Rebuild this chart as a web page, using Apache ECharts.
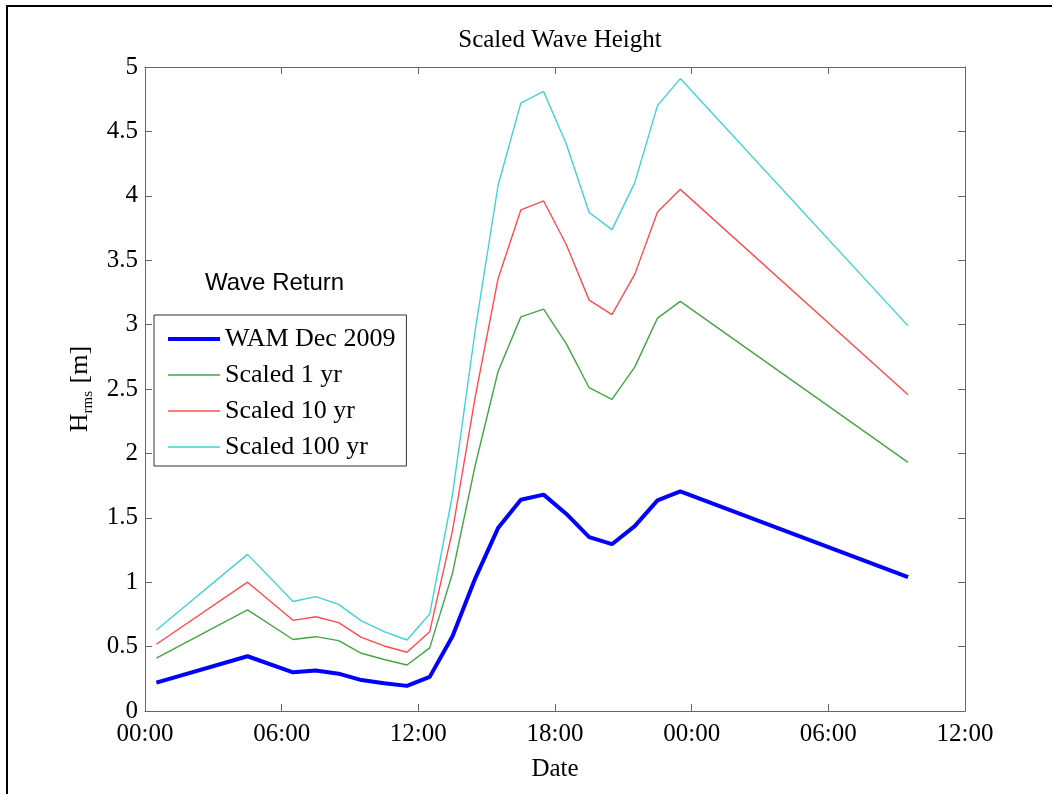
<!DOCTYPE html>
<html>
<head>
<meta charset="utf-8">
<script src="https://cdn.jsdelivr.net/npm/echarts@6/dist/echarts.min.js"></script>
<style>
  html, body { margin: 0; padding: 0; background: #fff; }
  #chart { width: 1052px; height: 794px; }
</style>
</head>
<body>
<div id="chart"></div>
<script>
// Sample times, hours from 00:00 on the first day
const hours = [0.5, 4.5, 6.5, 7.5, 8.5, 9.5, 10.5, 11.5, 12.5, 13.5, 14.5, 15.5,
               16.5, 17.5, 18.5, 19.5, 20.5, 21.5, 22.5, 23.5, 33.5];

// Hrms [m]
const wamDec2009 = [0.22, 0.425, 0.30, 0.315, 0.29, 0.24, 0.215, 0.195, 0.265, 0.58, 1.03, 1.42,
                    1.64, 1.68, 1.53, 1.35, 1.295, 1.435, 1.635, 1.705, 1.04];
const scaled1yr = [0.41, 0.785, 0.555, 0.577, 0.546, 0.448, 0.40, 0.357, 0.49, 1.07, 1.91, 2.636,
                   3.06, 3.12, 2.85, 2.51, 2.42, 2.67, 3.05, 3.18, 1.93];
const scaled10yr = [0.518, 1.0, 0.704, 0.732, 0.686, 0.572, 0.505, 0.456, 0.616, 1.40, 2.44, 3.356,
                    3.89, 3.96, 3.62, 3.19, 3.077, 3.39, 3.875, 4.05, 2.455];
const scaled100yr = [0.629, 1.216, 0.85, 0.888, 0.828, 0.70, 0.616, 0.551, 0.753, 1.68, 2.96, 4.08,
                     4.72, 4.81, 4.40, 3.87, 3.737, 4.10, 4.70, 4.91, 2.99];

// Tick labels every 6 hours
const timeTicks = ['00:00', '06:00', '12:00', '18:00', '00:00', '06:00', '12:00'];

const seriesNames = ['WAM Dec 2009', 'Scaled 1 yr', 'Scaled 10 yr', 'Scaled 100 yr'];
const seriesValues = [wamDec2009, scaled1yr, scaled10yr, scaled100yr];
const seriesColors = ['#0000ff', '#45a545', '#ff4d4d', '#40d2d8'];
const seriesWidths = [4, 1.4, 1.4, 1.4];

const serif = '"Liberation Serif", "Times New Roman", serif';
const sans = '"Liberation Sans", Arial, sans-serif';
const axisGray = '#666';

const pairs = vals => hours.map((h, i) => [h, vals[i]]);

const chart = echarts.init(document.getElementById('chart'), null, { renderer: 'canvas' });

const baseX = {
  type: 'value', min: 0, max: 36, interval: 6,
  axisLine: { show: true, onZero: false, lineStyle: { color: axisGray, width: 1 } },
  axisTick: { show: true, inside: true, length: 7, lineStyle: { color: axisGray } },
  splitLine: { show: false }
};
const baseY = {
  type: 'value', min: 0, max: 5, interval: 0.5,
  axisLine: { show: true, onZero: false, lineStyle: { color: axisGray, width: 1 } },
  axisTick: { show: true, inside: true, length: 7, lineStyle: { color: axisGray } },
  splitLine: { show: false }
};

chart.setOption({
  backgroundColor: '#fff',
  animation: false,
  title: {
    text: 'Scaled Wave Height',
    left: 555, top: 23, textAlign: 'center',
    textStyle: { fontFamily: serif, fontSize: 25, fontWeight: 'normal', color: '#000' }
  },
  grid: { left: 145, right: 87, top: 67, bottom: 83, containLabel: false },
  xAxis: [
    Object.assign({}, baseX, {
      position: 'bottom',
      name: 'Date', nameLocation: 'middle', nameGap: 46,
      nameTextStyle: { fontFamily: serif, fontSize: 25, color: '#000' },
      axisLabel: {
        show: true, margin: 11, color: '#000', fontFamily: serif, fontSize: 25,
        formatter: v => timeTicks[Math.round(v / 6)]
      }
    }),
    Object.assign({}, baseX, { position: 'top', axisLabel: { show: false } })
  ],
  yAxis: [
    Object.assign({}, baseY, {
      position: 'left',
      name: '{h|H}{s|rms}{h| [m]}', nameLocation: 'middle', nameGap: 44, nameRotate: 90,
      nameTextStyle: {
        rich: {
          h: { fontFamily: serif, fontSize: 26, color: '#000', lineHeight: 32, verticalAlign: 'middle' },
          s: { fontFamily: serif, fontSize: 15, color: '#000', lineHeight: 32, verticalAlign: 'bottom', padding: [0, 1, 0, 0] }
        }
      },
      axisLabel: { show: true, margin: 7, color: '#000', fontFamily: serif, fontSize: 25 }
    }),
    Object.assign({}, baseY, { position: 'right', axisLabel: { show: false } })
  ],
  legend: {
    orient: 'vertical',
    left: 154, top: 315,
    data: seriesNames.map((name, i) => ({ name: name, lineStyle: { width: seriesWidths[i] } })),
    itemWidth: 52, itemHeight: 14, itemGap: 10,
    padding: [11, 11, 6, 12],
    borderColor: '#333', borderWidth: 1,
    backgroundColor: '#fff',
    selectedMode: false,
    itemStyle: { opacity: 0 },
    textStyle: { fontFamily: serif, fontSize: 26, color: '#000', lineHeight: 26 }
  },
  graphic: [
    {
      type: 'text', left: 205, top: 271, silent: true,
      style: { text: 'Wave Return', font: '24px ' + sans, fill: '#000' }
    },
    {
      type: 'polyline', silent: true,
      shape: { points: [[7, 794], [7, 6], [1052, 6]] },
      style: { stroke: '#000', lineWidth: 2, fill: null }
    }
  ],
  series: seriesNames.map((name, i) => ({
    name: name,
    type: 'line',
    xAxisIndex: 0, yAxisIndex: 0,
    data: pairs(seriesValues[i]),
    symbol: 'none',
    showSymbol: false,
    smooth: false,
    z: 10 - i,
    color: seriesColors[i],
    lineStyle: { color: seriesColors[i], width: seriesWidths[i] }
  }))
});
</script>
</body>
</html>
